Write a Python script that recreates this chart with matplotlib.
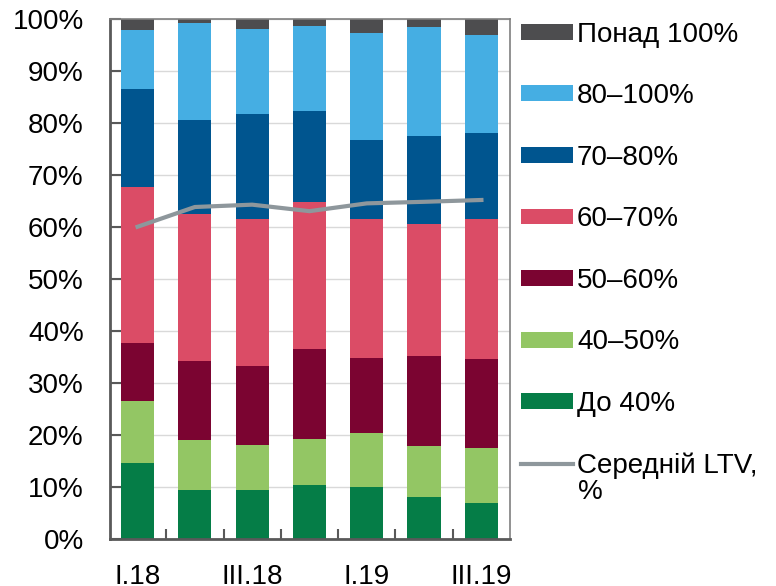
import matplotlib.pyplot as plt
import numpy as np

plt.rcParams['font.family'] = ['Liberation Sans', 'DejaVu Sans']

quarters = ['I.18', 'II.18', 'III.18', 'IV.18', 'I.19', 'II.19', 'III.19']
shown = ['I.18', '', 'III.18', '', 'I.19', '', 'III.19']

do40 = [14.7, 9.4, 9.55, 10.45, 10.05, 8.2, 6.9]
s40_50 = [11.8, 9.6, 8.55, 8.75, 10.35, 9.7, 10.7]
s50_60 = [11.2, 15.3, 15.2, 17.45, 14.5, 17.35, 17.1]
s60_70 = [30.05, 28.3, 28.3, 28.25, 26.7, 25.35, 26.9]
s70_80 = [18.75, 18.0, 20.25, 17.4, 15.1, 17.0, 16.6]
s80_100 = [11.5, 18.7, 16.35, 16.5, 20.6, 21.0, 18.8]
over100 = [2.0, 0.7, 1.8, 1.2, 2.7, 1.4, 3.0]
ltv = [60.1, 63.9, 64.35, 63.1, 64.6, 64.9, 65.25]

series = [do40, s40_50, s50_60, s60_70, s70_80, s80_100, over100]
names = ['До 40%', '40–50%', '50–60%', '60–70%', '70–80%', '80–100%', 'Понад 100%']
colors = ['#057d47', '#93c664', '#7b0431', '#db4c66', '#00558f', '#45aee3', '#4d4d4f']

fs = 20

fig = plt.figure(figsize=(7.76, 5.86), dpi=100)
ax = fig.add_axes([0.1418, 0.0797, 0.5155, 0.8874])

x = np.arange(len(quarters))
bottom = np.zeros(len(quarters))
bars = []
for vals, nm, c in zip(series, names, colors):
    b = ax.bar(x, vals, 0.58, bottom=bottom, color=c, label=nm, zorder=2)
    bars.append(b)
    bottom += np.array(vals)

line, = ax.plot(x, ltv, color='#8e979c', lw=3, zorder=3)

ax.set_ylim(0, 100)
ax.set_xlim(-0.48, 6.5)
ax.set_yticks(np.arange(0, 101, 10))
ax.set_yticklabels([f'{v}%' for v in range(0, 101, 10)], fontsize=fs)
ax.yaxis.grid(True, color='#d9d9d9', lw=1, zorder=0)
ax.set_axisbelow(True)

ax.set_xticks(x)
ax.set_xticklabels(shown, fontsize=fs)
ax.tick_params(axis='x', length=0, pad=18)
ax.set_xticks(x[:-1] + 0.5, minor=True)
ax.tick_params(axis='x', which='minor', direction='in', length=7, width=1.5, color='#595959')
ax.tick_params(axis='y', direction='in', length=8, width=1.5, color='#595959', pad=19)

for s in ['left', 'bottom']:
    ax.spines[s].set_color('#595959')
    ax.spines[s].set_linewidth(2)
for s in ['top', 'right']:
    ax.spines[s].set_color('#7f7f7f')
    ax.spines[s].set_linewidth(1.2)

handles = [bars[i] for i in range(6, -1, -1)] + [line]
labels = [names[i] for i in range(6, -1, -1)] + ['Середній LTV,']
fig.legend(handles, labels, loc='upper left', bbox_to_anchor=(0.6714, 0.963),
           frameon=False, fontsize=fs, handlelength=1.87, handleheight=0.5,
           handletextpad=0.15, labelspacing=1.28, borderaxespad=0, borderpad=0)
fig.text(578 / 776, 1 - 492 / 586, '%', fontsize=fs, va='center', ha='left')

fig.savefig('out.png', dpi=100)
